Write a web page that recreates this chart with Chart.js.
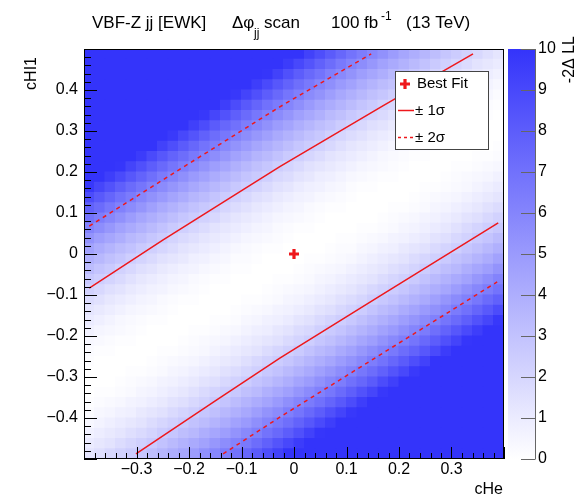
<!DOCTYPE html>
<html><head><meta charset="utf-8">
<script src="https://cdn.jsdelivr.net/npm/chart.js@4.4.1/dist/chart.umd.min.js"></script>
<style>html,body{margin:0;padding:0;background:#fff;}canvas{display:block;}</style>
</head><body>
<canvas id="c" width="576" height="496"></canvas>
<script>
// ---- categories (bin centres / edges) ----
const cHeBins = [-0.39,-0.37,-0.35,-0.33,-0.31,-0.29,-0.27,-0.25,-0.23,-0.21,-0.19,-0.17,-0.15,-0.13,-0.11,-0.09,-0.07,-0.05,-0.03,-0.01,0.01,0.03,0.05,0.07,0.09,0.11,0.13,0.15,0.17,0.19,0.21,0.23,0.25,0.27,0.29,0.31,0.33,0.35,0.37,0.39];
const cHI1Edges = [-0.5,-0.475,-0.45,-0.425,-0.4,-0.375,-0.35,-0.325,-0.3,-0.275,-0.25,-0.225,-0.2,-0.175,-0.15,-0.125,-0.1,-0.075,-0.05,-0.025,0,0.025,0.05,0.075,0.1,0.125,0.15,0.175,0.2,0.225,0.25,0.275,0.3,0.325,0.35,0.375,0.4,0.425,0.45,0.475,0.5];

// ---- -2 Delta LL per cell, rows from bottom (cHI1=-0.4875) to top (cHI1=0.4875) ----
const nll = [
[1.3,1.6,1.9,2.2,2.5,2.8,3.2,3.6,4.0,4.4,4.9,5.4,5.9,6.4,6.9,7.5,8.1,8.7,9.3,10,10,10,10,10,10,10,10,10,10,10,10,10,10,10,10,10,10,10,10,10],
[1.0,1.2,1.4,1.7,2.0,2.3,2.6,3.0,3.4,3.8,4.2,4.6,5.1,5.6,6.1,6.6,7.2,7.8,8.4,9.0,9.6,10,10,10,10,10,10,10,10,10,10,10,10,10,10,10,10,10,10,10],
[0.7,0.9,1.1,1.3,1.6,1.8,2.1,2.5,2.8,3.2,3.5,4.0,4.4,4.8,5.3,5.8,6.3,6.9,7.4,8.0,8.6,9.3,9.9,10,10,10,10,10,10,10,10,10,10,10,10,10,10,10,10,10],
[0.4,0.6,0.8,1.0,1.2,1.4,1.7,2.0,2.3,2.6,3.0,3.3,3.7,4.1,4.6,5.0,5.5,6.0,6.6,7.1,7.7,8.3,8.9,9.5,10,10,10,10,10,10,10,10,10,10,10,10,10,10,10,10],
[0.2,0.4,0.5,0.7,0.8,1.1,1.3,1.5,1.8,2.1,2.4,2.8,3.1,3.5,3.9,4.3,4.8,5.3,5.7,6.3,6.8,7.4,8.0,8.6,9.2,9.8,10,10,10,10,10,10,10,10,10,10,10,10,10,10],
[0.1,0.2,0.3,0.4,0.6,0.7,0.9,1.1,1.4,1.6,1.9,2.2,2.6,2.9,3.3,3.7,4.1,4.5,5.0,5.5,6.0,6.5,7.0,7.6,8.2,8.8,9.5,10,10,10,10,10,10,10,10,10,10,10,10,10],
[0.0,0.1,0.1,0.2,0.3,0.5,0.6,0.8,1.0,1.2,1.5,1.8,2.1,2.4,2.7,3.1,3.4,3.9,4.3,4.7,5.2,5.7,6.2,6.7,7.3,7.9,8.5,9.1,9.8,10,10,10,10,10,10,10,10,10,10,10],
[0.0,0.0,0.0,0.1,0.2,0.3,0.4,0.6,0.7,0.9,1.1,1.4,1.6,1.9,2.2,2.5,2.9,3.2,3.6,4.0,4.5,4.9,5.4,5.9,6.4,7.0,7.5,8.1,8.8,9.4,10,10,10,10,10,10,10,10,10,10],
[0.0,0.0,0.0,0.0,0.1,0.1,0.2,0.3,0.5,0.6,0.8,1.0,1.2,1.5,1.7,2.0,2.3,2.7,3.0,3.4,3.8,4.2,4.7,5.1,5.6,6.1,6.7,7.2,7.8,8.4,9.0,9.7,10,10,10,10,10,10,10,10],
[0.1,0.0,0.0,0.0,0.0,0.0,0.1,0.2,0.3,0.4,0.5,0.7,0.9,1.1,1.3,1.6,1.9,2.2,2.5,2.8,3.2,3.6,4.0,4.4,4.9,5.3,5.8,6.4,6.9,7.5,8.1,8.7,9.3,10,10,10,10,10,10,10],
[0.2,0.1,0.1,0.0,0.0,0.0,0.0,0.1,0.1,0.2,0.3,0.4,0.6,0.8,1.0,1.2,1.4,1.7,2.0,2.3,2.6,3.0,3.4,3.7,4.2,4.6,5.1,5.6,6.1,6.6,7.2,7.7,8.3,8.9,9.6,10,10,10,10,10],
[0.4,0.3,0.2,0.1,0.1,0.0,0.0,0.0,0.0,0.1,0.2,0.3,0.4,0.5,0.7,0.9,1.1,1.3,1.5,1.8,2.1,2.4,2.8,3.1,3.5,3.9,4.4,4.8,5.3,5.8,6.3,6.8,7.4,8.0,8.6,9.2,9.9,10,10,10],
[0.7,0.5,0.4,0.3,0.2,0.1,0.0,0.0,0.0,0.0,0.1,0.1,0.2,0.3,0.4,0.6,0.8,0.9,1.2,1.4,1.7,1.9,2.3,2.6,2.9,3.3,3.7,4.1,4.6,5.0,5.5,6.0,6.5,7.1,7.7,8.3,8.9,9.5,10,10],
[1.0,0.8,0.6,0.4,0.3,0.2,0.1,0.1,0.0,0.0,0.0,0.0,0.1,0.1,0.2,0.4,0.5,0.7,0.8,1.0,1.3,1.5,1.8,2.1,2.4,2.7,3.1,3.5,3.9,4.3,4.8,5.2,5.7,6.2,6.8,7.3,7.9,8.5,9.1,9.8],
[1.3,1.1,0.9,0.7,0.5,0.4,0.3,0.2,0.1,0.0,0.0,0.0,0.0,0.0,0.1,0.2,0.3,0.4,0.6,0.7,0.9,1.1,1.4,1.6,1.9,2.2,2.5,2.9,3.3,3.6,4.1,4.5,5.0,5.4,5.9,6.5,7.0,7.6,8.2,8.8],
[1.7,1.5,1.2,1.0,0.8,0.6,0.5,0.3,0.2,0.1,0.1,0.0,0.0,0.0,0.0,0.1,0.1,0.2,0.3,0.5,0.6,0.8,1.0,1.2,1.5,1.7,2.0,2.4,2.7,3.0,3.4,3.8,4.2,4.7,5.2,5.7,6.2,6.7,7.3,7.8],
[2.2,1.9,1.6,1.4,1.1,0.9,0.7,0.6,0.4,0.3,0.2,0.1,0.0,0.0,0.0,0.0,0.0,0.1,0.2,0.3,0.4,0.5,0.7,0.9,1.1,1.3,1.6,1.9,2.2,2.5,2.8,3.2,3.6,4.0,4.4,4.9,5.4,5.9,6.4,6.9],
[2.7,2.4,2.1,1.8,1.5,1.2,1.0,0.8,0.6,0.5,0.3,0.2,0.1,0.1,0.0,0.0,0.0,0.0,0.1,0.1,0.2,0.3,0.5,0.6,0.8,1.0,1.2,1.4,1.7,2.0,2.3,2.6,3.0,3.4,3.8,4.2,4.6,5.1,5.6,6.1],
[3.3,2.9,2.6,2.2,1.9,1.6,1.4,1.1,0.9,0.7,0.6,0.4,0.3,0.2,0.1,0.1,0.0,0.0,0.0,0.0,0.1,0.2,0.3,0.4,0.5,0.7,0.9,1.1,1.3,1.6,1.8,2.1,2.5,2.8,3.2,3.5,4.0,4.4,4.8,5.3],
[3.9,3.5,3.1,2.8,2.4,2.1,1.8,1.5,1.3,1.1,0.8,0.7,0.5,0.4,0.2,0.2,0.1,0.0,0.0,0.0,0.0,0.1,0.1,0.2,0.3,0.4,0.6,0.8,1.0,1.2,1.4,1.7,2.0,2.3,2.6,3.0,3.3,3.7,4.1,4.6],
[4.6,4.1,3.7,3.3,3.0,2.6,2.3,2.0,1.7,1.4,1.2,1.0,0.8,0.6,0.4,0.3,0.2,0.1,0.1,0.0,0.0,0.0,0.0,0.1,0.2,0.2,0.4,0.5,0.7,0.8,1.1,1.3,1.5,1.8,2.1,2.4,2.8,3.1,3.5,3.9],
[5.3,4.8,4.4,4.0,3.5,3.2,2.8,2.5,2.1,1.8,1.6,1.3,1.1,0.9,0.7,0.5,0.4,0.3,0.2,0.1,0.0,0.0,0.0,0.0,0.1,0.1,0.2,0.3,0.4,0.6,0.7,0.9,1.1,1.4,1.6,1.9,2.2,2.6,2.9,3.3],
[6.1,5.6,5.1,4.6,4.2,3.8,3.4,3.0,2.6,2.3,2.0,1.7,1.4,1.2,1.0,0.8,0.6,0.5,0.3,0.2,0.1,0.1,0.0,0.0,0.0,0.0,0.1,0.1,0.2,0.3,0.5,0.6,0.8,1.0,1.2,1.5,1.8,2.1,2.4,2.7],
[6.9,6.4,5.9,5.4,4.9,4.4,4.0,3.6,3.2,2.8,2.5,2.2,1.9,1.6,1.3,1.1,0.9,0.7,0.5,0.4,0.3,0.2,0.1,0.0,0.0,0.0,0.0,0.0,0.1,0.2,0.3,0.4,0.6,0.7,0.9,1.1,1.4,1.6,1.9,2.2],
[7.8,7.3,6.7,6.2,5.7,5.2,4.7,4.2,3.8,3.4,3.0,2.7,2.4,2.0,1.7,1.5,1.2,1.0,0.8,0.6,0.5,0.3,0.2,0.1,0.1,0.0,0.0,0.0,0.0,0.1,0.1,0.2,0.3,0.5,0.6,0.8,1.0,1.2,1.5,1.7],
[8.8,8.2,7.6,7.0,6.5,5.9,5.4,5.0,4.5,4.1,3.6,3.3,2.9,2.5,2.2,1.9,1.6,1.4,1.1,0.9,0.7,0.6,0.4,0.3,0.2,0.1,0.0,0.0,0.0,0.0,0.0,0.1,0.2,0.3,0.4,0.5,0.7,0.9,1.1,1.3],
[9.8,9.1,8.5,7.9,7.3,6.8,6.2,5.7,5.2,4.8,4.3,3.9,3.5,3.1,2.7,2.4,2.1,1.8,1.5,1.3,1.0,0.8,0.7,0.5,0.4,0.2,0.1,0.1,0.0,0.0,0.0,0.0,0.1,0.1,0.2,0.3,0.4,0.6,0.8,1.0],
[10,10,9.5,8.9,8.3,7.7,7.1,6.5,6.0,5.5,5.0,4.6,4.1,3.7,3.3,2.9,2.6,2.3,1.9,1.7,1.4,1.2,0.9,0.8,0.6,0.4,0.3,0.2,0.1,0.1,0.0,0.0,0.0,0.0,0.1,0.2,0.3,0.4,0.5,0.7],
[10,10,10,9.9,9.2,8.6,8.0,7.4,6.8,6.3,5.8,5.3,4.8,4.4,3.9,3.5,3.1,2.8,2.4,2.1,1.8,1.5,1.3,1.1,0.9,0.7,0.5,0.4,0.3,0.2,0.1,0.0,0.0,0.0,0.0,0.1,0.1,0.2,0.3,0.4],
[10,10,10,10,10,9.6,8.9,8.3,7.7,7.2,6.6,6.1,5.6,5.1,4.6,4.2,3.7,3.4,3.0,2.6,2.3,2.0,1.7,1.4,1.2,1.0,0.8,0.6,0.4,0.3,0.2,0.1,0.1,0.0,0.0,0.0,0.0,0.1,0.1,0.2],
[10,10,10,10,10,10,10,9.3,8.7,8.1,7.5,6.9,6.4,5.8,5.3,4.9,4.4,4.0,3.6,3.2,2.8,2.5,2.2,1.9,1.6,1.3,1.1,0.9,0.7,0.5,0.4,0.3,0.2,0.1,0.0,0.0,0.0,0.0,0.0,0.1],
[10,10,10,10,10,10,10,10,9.7,9.0,8.4,7.8,7.2,6.7,6.1,5.6,5.1,4.7,4.2,3.8,3.4,3.0,2.7,2.3,2.0,1.7,1.5,1.2,1.0,0.8,0.6,0.5,0.3,0.2,0.1,0.1,0.0,0.0,0.0,0.0],
[10,10,10,10,10,10,10,10,10,10,9.4,8.8,8.1,7.5,7.0,6.4,5.9,5.4,4.9,4.5,4.0,3.6,3.2,2.9,2.5,2.2,1.9,1.6,1.4,1.1,0.9,0.7,0.6,0.4,0.3,0.2,0.1,0.0,0.0,0.0],
[10,10,10,10,10,10,10,10,10,10,10,9.8,9.1,8.5,7.9,7.3,6.7,6.2,5.7,5.2,4.7,4.3,3.9,3.4,3.1,2.7,2.4,2.1,1.8,1.5,1.2,1.0,0.8,0.6,0.5,0.3,0.2,0.1,0.1,0.0],
[10,10,10,10,10,10,10,10,10,10,10,10,10,9.5,8.8,8.2,7.6,7.0,6.5,6.0,5.5,5.0,4.5,4.1,3.7,3.3,2.9,2.6,2.2,1.9,1.6,1.4,1.1,0.9,0.7,0.6,0.4,0.3,0.2,0.1],
[10,10,10,10,10,10,10,10,10,10,10,10,10,10,9.8,9.2,8.6,8.0,7.4,6.8,6.3,5.7,5.3,4.8,4.3,3.9,3.5,3.1,2.8,2.4,2.1,1.8,1.5,1.3,1.1,0.8,0.7,0.5,0.4,0.2],
[10,10,10,10,10,10,10,10,10,10,10,10,10,10,10,10,9.5,8.9,8.3,7.7,7.1,6.6,6.0,5.5,5.0,4.6,4.1,3.7,3.3,3.0,2.6,2.3,2.0,1.7,1.4,1.2,1.0,0.8,0.6,0.4],
[10,10,10,10,10,10,10,10,10,10,10,10,10,10,10,10,10,9.9,9.3,8.6,8.0,7.4,6.9,6.3,5.8,5.3,4.8,4.4,4.0,3.5,3.2,2.8,2.5,2.1,1.8,1.6,1.3,1.1,0.9,0.7],
[10,10,10,10,10,10,10,10,10,10,10,10,10,10,10,10,10,10,10,9.6,9.0,8.4,7.8,7.2,6.6,6.1,5.6,5.1,4.6,4.2,3.8,3.4,3.0,2.6,2.3,2.0,1.7,1.4,1.2,1.0],
[10,10,10,10,10,10,10,10,10,10,10,10,10,10,10,10,10,10,10,10,10,9.3,8.7,8.1,7.5,6.9,6.4,5.9,5.4,4.9,4.4,4.0,3.6,3.2,2.8,2.5,2.2,1.9,1.6,1.3]
];

// ---- contour lines ----
const sig1UpCHe  = [-0.39, -0.25, -0.027, 0.17, 0.341];
const sig1UpCHI1 = [-0.083, 0.034, 0.213, 0.362, 0.488];
const sig1LoCHe  = [-0.301, -0.15, -0.027, 0.164, 0.389];
const sig1LoCHI1 = [-0.4875, -0.358, -0.254, -0.102, 0.076];
const sig2UpCHe  = [-0.39, -0.217, -0.027, 0.147];
const sig2UpCHI1 = [0.068, 0.207, 0.359, 0.488];
const sig2LoCHe  = [-0.135, -0.027, 0.164, 0.387];
const sig2LoCHI1 = [-0.4875, -0.398, -0.246, -0.068];
const bestFitCHe = [0];
const bestFitCHI1 = [0];

// ---- tick labels ----
const xTickValues = [-0.3,-0.2,-0.1,0,0.1,0.2,0.3];
const yTickValues = [-0.4,-0.3,-0.2,-0.1,0,0.1,0.2,0.3,0.4];
const zTickValues = [0,1,2,3,4,5,6,7,8,9,10];

// ---- style ----
const FONT = 'Liberation Sans';
const RED = 'rgb(238,24,28)';
const ZMAX = 10;
const TOP_RGB = [52,52,250];
function palette(v){
  const f = Math.max(0, Math.min(1, v / ZMAX));
  const r = Math.round(255 + (TOP_RGB[0]-255)*f);
  const g = Math.round(255 + (TOP_RGB[1]-255)*f);
  const b = Math.round(255 + (TOP_RGB[2]-255)*f);
  return `rgb(${r},${g},${b})`;
}
function fmt(v){
  const r = Math.round(v*10)/10;
  if (r === 0) return '0';
  return (r < 0 ? '\u2212' : '') + Math.abs(r).toFixed(1);
}
const pts = (xs, ys) => xs.map((x, i) => ({x: x, y: ys[i]}));

const datasets = [];
datasets.push({type:'line', data: pts(sig1UpCHe, sig1UpCHI1), borderColor: RED, borderWidth: 1.5, pointRadius: 0, fill: false, order: 0});
datasets.push({type:'line', data: pts(sig1LoCHe, sig1LoCHI1), borderColor: RED, borderWidth: 1.5, pointRadius: 0, fill: false, order: 0});
datasets.push({type:'line', data: pts(sig2UpCHe, sig2UpCHI1), borderColor: RED, borderWidth: 1.5, borderDash: [4,4], pointRadius: 0, fill: false, order: 0});
datasets.push({type:'line', data: pts(sig2LoCHe, sig2LoCHI1), borderColor: RED, borderWidth: 1.5, borderDash: [4,4], pointRadius: 0, fill: false, order: 0});
datasets.push({type:'scatter', data: pts(bestFitCHe, bestFitCHI1), pointStyle: 'cross', pointRadius: 5, pointBorderWidth: 3.2, borderColor: RED, backgroundColor: RED, order: 0});
nll.forEach((row, j) => {
  datasets.push({
    type: 'bar',
    data: cHeBins.map((x, i) => ({x: x, y: [cHI1Edges[j], cHI1Edges[j+1]]})),
    backgroundColor: row.map(palette),
    borderWidth: 0,
    grouped: false,
    barPercentage: 1,
    categoryPercentage: 1,
    inflateAmount: 0.5,
    order: 10
  });
});

const decor = {
  id: 'decor',
  beforeDraw(chart){
    const c = chart.ctx; c.save(); c.fillStyle = '#fff'; c.fillRect(0,0,chart.width,chart.height); c.restore();
  },
  afterDraw(chart){
    const ctx = chart.ctx, a = chart.chartArea;
    const xs = chart.scales.x, ys = chart.scales.y, zs = chart.scales.z;
    ctx.save();
    // inward ticks
    ctx.strokeStyle = '#000'; ctx.lineWidth = 1;
    ctx.beginPath();
    for (let k = -20; k <= 20; k++) {
      const px = Math.round(xs.getPixelForValue(k*0.02)) + 0.5;
      const len = (k % 5 === 0) ? 12 : 6;
      ctx.moveTo(px, a.bottom); ctx.lineTo(px, a.bottom - len);
    }
    for (let k = -25; k <= 25; k++) {
      const py = Math.round(ys.getPixelForValue(k*0.02)) + 0.5;
      const len = (k % 5 === 0) ? 13 : 7;
      ctx.moveTo(a.left, py); ctx.lineTo(a.left + len, py);
    }
    ctx.stroke();
    // frame
    ctx.strokeRect(a.left + 0.5, a.top + 0.5, a.right - a.left - 1, a.bottom - a.top - 1);

    // colour bar
    const bx0 = a.right + 4, bx1 = a.right + 31;
    const bTop = zs.getPixelForValue(ZMAX), bBot = zs.getPixelForValue(0);
    const grad = ctx.createLinearGradient(0, bBot, 0, bTop);
    for (let s = 0; s <= 10; s++) grad.addColorStop(s/10, palette(s/10*ZMAX));
    ctx.fillStyle = grad;
    ctx.fillRect(bx0, bTop, bx1 - bx0, bBot - bTop);
    ctx.strokeStyle = '#666';
    ctx.beginPath();
    ctx.moveTo(bx1 + 0.5, bTop); ctx.lineTo(bx1 + 0.5, bBot);
    zTickValues.forEach(v => {
      const py = Math.round(zs.getPixelForValue(v)) + 0.5;
      ctx.moveTo(bx1 - 14, py); ctx.lineTo(bx1 + 0.5, py);
    });
    ctx.stroke();

    // legend
    const lx = 395.5, ly = 71.5, lw = 93, lh = 78;
    ctx.fillStyle = '#fff'; ctx.fillRect(lx, ly, lw, lh);
    ctx.strokeStyle = '#444'; ctx.lineWidth = 1; ctx.strokeRect(lx, ly, lw, lh);
    ctx.strokeStyle = RED; ctx.lineWidth = 3.2;
    ctx.beginPath(); ctx.moveTo(400, 84); ctx.lineTo(410, 84); ctx.moveTo(405, 79); ctx.lineTo(405, 89); ctx.stroke();
    ctx.lineWidth = 1.5;
    ctx.beginPath(); ctx.moveTo(398, 110.5); ctx.lineTo(414, 110.5); ctx.stroke();
    ctx.setLineDash([3,3]);
    ctx.beginPath(); ctx.moveTo(398, 137.5); ctx.lineTo(414, 137.5); ctx.stroke();
    ctx.setLineDash([]);
    ctx.fillStyle = '#000'; ctx.font = `15px "${FONT}"`; ctx.textBaseline = 'middle'; ctx.textAlign = 'left';
    ctx.fillText('Best Fit', 417, 84);
    ctx.fillText('\u00b1 1\u03c3', 415, 111);
    ctx.fillText('\u00b1 2\u03c3', 415, 138);

    // title
    ctx.textBaseline = 'alphabetic';
    ctx.font = `17px "${FONT}"`;
    ctx.fillText('VBF-Z jj [EWK]', 92, 28);
    ctx.fillText('\u0394\u03c6', 232, 28);
    ctx.fillText('scan', 264, 28);
    ctx.fillText('100 fb', 331, 28);
    ctx.fillText('(13 TeV)', 406, 28);
    ctx.font = `12px "${FONT}"`;
    ctx.fillText('jj', 254, 37);
    ctx.fillText('-1', 381, 20);

    // axis titles
    ctx.font = `16px "${FONT}"`;
    ctx.textAlign = 'right';
    ctx.fillText('cHe', 503, 494);
    ctx.save(); ctx.translate(36, 57); ctx.rotate(-Math.PI/2); ctx.fillText('cHI1', 0, 0); ctx.restore();
    ctx.save(); ctx.translate(574, 36); ctx.rotate(-Math.PI/2); ctx.fillText('-2\u0394 LL', 0, 0); ctx.restore();
    ctx.restore();
  }
};

new Chart(document.getElementById('c'), {
  type: 'bar',
  data: { datasets },
  options: {
    responsive: false, animation: false, devicePixelRatio: 1,
    layout: { padding: { top: 49, left: 0, right: 0, bottom: 0 } },
    plugins: { legend: { display: false }, tooltip: { enabled: false }, title: { display: false } },
    scales: {
      x: {
        type: 'linear', min: -0.4, max: 0.4, offset: false,
        grid: { display: false, drawTicks: false, offset: false }, border: { display: false },
        ticks: { font: { family: FONT, size: 16 }, color: '#000', padding: 1, maxRotation: 0, autoSkip: false, callback: (v) => fmt(v) },
        afterBuildTicks: (s) => { s.ticks = xTickValues.map(v => ({ value: v })); },
        afterFit: (s) => { s.height = 37; }
      },
      y: {
        type: 'linear', min: -0.5, max: 0.5,
        grid: { display: false, drawTicks: false }, border: { display: false },
        ticks: { font: { family: FONT, size: 16 }, color: '#000', padding: 6, autoSkip: false, callback: (v) => fmt(v) },
        afterBuildTicks: (s) => { s.ticks = yTickValues.map(v => ({ value: v })); },
        afterFit: (s) => { s.width = 84; }
      },
      z: {
        type: 'linear', position: 'right', min: 0, max: ZMAX, display: true,
        grid: { display: false, drawTicks: true, tickLength: 31 }, border: { display: false },
        ticks: { font: { family: FONT, size: 16 }, color: '#000', padding: 3, autoSkip: false, callback: (v) => String(v) },
        afterBuildTicks: (s) => { s.ticks = zTickValues.map(v => ({ value: v })); },
        afterFit: (s) => { s.width = 72; }
      }
    }
  },
  plugins: [decor]
});
</script>
</body></html>
